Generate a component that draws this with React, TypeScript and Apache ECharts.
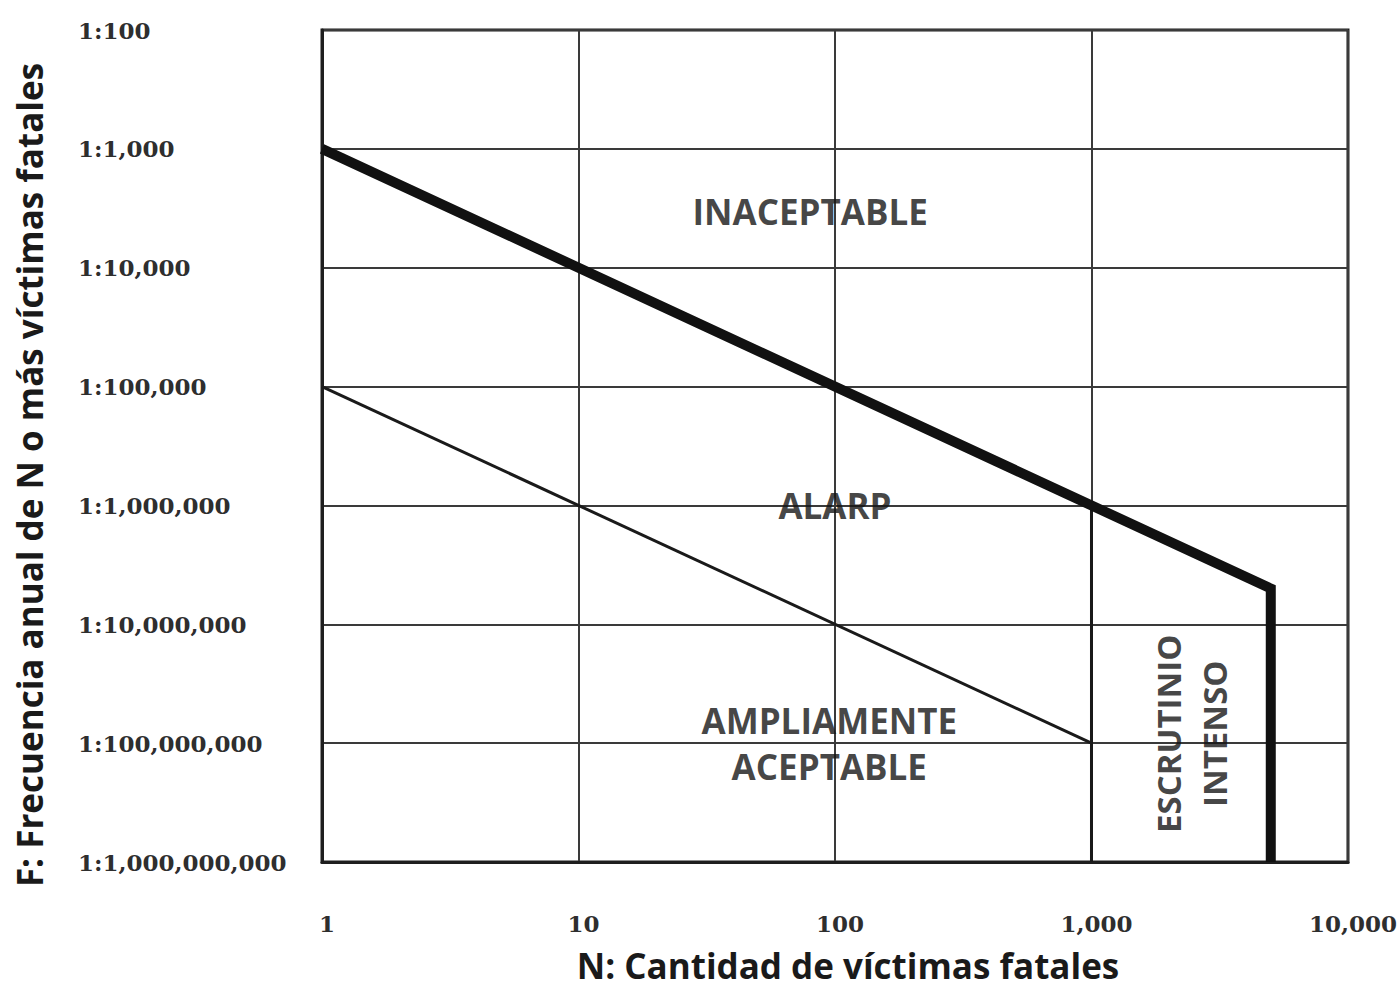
import React, { useEffect, useRef } from "react";
import * as echarts from "echarts";

// Tick labels
const xTickLabels = ["1", "10", "100", "1,000", "10,000"];
const yTickLabels = [
  "1:1,000,000,000",
  "1:100,000,000",
  "1:10,000,000",
  "1:1,000,000",
  "1:100,000",
  "1:10,000",
  "1:1,000",
  "1:100",
];

// Criterion lines (N, F)
const upperLimit: [number, number][] = [
  [1, 1e-3],
  [5000, 2e-7],
  [5000, 1e-9],
];
const lowerLimit: [number, number][] = [
  [1, 1e-5],
  [1000, 1e-8],
];
const lowerCutoff: [number, number][] = [
  [1000, 1e-6],
  [1000, 1e-9],
];

// Region labels
const regionNames = ["INACEPTABLE", "ALARP", "AMPLIAMENTE\nACEPTABLE", "ESCRUTINIO\nINTENSO"];
const regionN = [80, 100, 95, 2450];
const regionF = [3e-4, 1e-6, 1e-8, 1.2e-8];
const regionRotate = [0, 0, 0, 90];
const regionFontSize = [35, 35, 35, 33];

const xTitle = "N: Cantidad de víctimas fatales";
const yTitle = "F: Frecuencia anual de N o más víctimas fatales";

const SANS = "'Open Sans', 'Noto Sans', sans-serif";
const SERIF = "'DejaVu Serif', serif";

export default function App() {
  const ref = useRef<HTMLDivElement>(null);
  useEffect(() => {
    if (!ref.current) return;
    const chart = echarts.init(ref.current, null, { renderer: "svg" });
    const exp = (v: number) => Math.round(Math.log10(v));
    chart.setOption({
      animation: false,
      backgroundColor: "#ffffff",
      grid: {
        left: 322,
        top: 30,
        right: 52,
        bottom: 122,
        show: true,
        borderColor: "#1e1e1e",
        borderWidth: 3,
        backgroundColor: "transparent",
      },
      xAxis: {
        type: "log",
        logBase: 10,
        min: 1,
        max: 10000,
        name: xTitle,
        nameLocation: "middle",
        nameGap: 86,
        nameTextStyle: {
          fontFamily: SANS,
          fontWeight: "bold",
          fontSize: 35,
          color: "#1a1a1a",
          padding: [0, 0, 0, 26],
        },
        axisLine: { show: true, lineStyle: { color: "#1e1e1e", width: 3 } },
        axisTick: { show: false },
        splitLine: { show: true, lineStyle: { color: "#3a3a3a", width: 2 } },
        minorSplitLine: { show: false },
        axisLabel: {
          margin: 50,
          padding: [0, 0, 0, 10],
          fontFamily: SERIF,
          fontWeight: "bold",
          fontSize: 23,
          color: "#2e2e2e",
          formatter: (v: number) => xTickLabels[exp(v)] ?? "",
        },
      },
      yAxis: {
        type: "log",
        logBase: 10,
        min: 1e-9,
        max: 1e-2,
        name: yTitle,
        nameLocation: "middle",
        nameRotate: 90,
        nameGap: 275,
        nameTextStyle: {
          fontFamily: SANS,
          fontWeight: "bold",
          fontSize: 35,
          color: "#1a1a1a",
          padding: [0, 58, 0, 0],
        },
        axisLine: { show: true, lineStyle: { color: "#1e1e1e", width: 3 } },
        axisTick: { show: false },
        splitLine: { show: true, lineStyle: { color: "#3a3a3a", width: 2 } },
        axisLabel: {
          align: "left",
          margin: 244,
          fontFamily: SERIF,
          fontWeight: "bold",
          fontSize: 23,
          color: "#2e2e2e",
          formatter: (v: number) => yTickLabels[exp(v) + 9] ?? "",
        },
      },
      series: [
        {
          type: "line",
          data: upperLimit,
          symbol: "none",
          lineStyle: { color: "#111111", width: 10, join: "miter" },
          z: 5,
        },
        {
          type: "line",
          data: lowerLimit,
          symbol: "none",
          lineStyle: { color: "#1a1a1a", width: 3 },
          z: 4,
        },
        {
          type: "line",
          data: lowerCutoff,
          symbol: "none",
          lineStyle: { color: "#1a1a1a", width: 3 },
          z: 4,
        },
        {
          type: "scatter",
          symbolSize: 0,
          silent: true,
          z: 6,
          data: regionNames.map((name, i) => ({
            name,
            value: [regionN[i], regionF[i]],
            label: {
              show: true,
              position: "inside",
              formatter: name,
              rotate: regionRotate[i],
              fontFamily: SANS,
              fontWeight: "bold",
              fontSize: regionFontSize[i],
              lineHeight: 46,
              color: "#141414",
              align: "center",
              verticalAlign: "middle",
            },
          })),
        },
      ],
    });
    return () => chart.dispose();
  }, []);
  return (
    <div
      ref={ref}
      style={{ position: "absolute", left: 0, top: 0, width: 1400, height: 988 }}
    />
  );
}
